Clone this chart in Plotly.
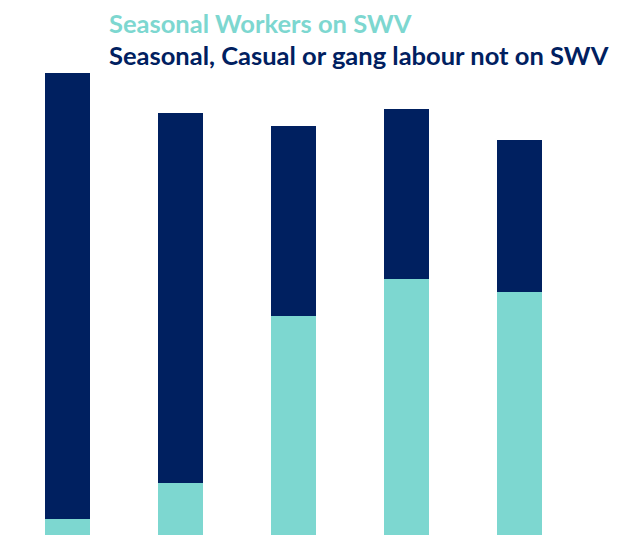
import plotly.graph_objects as go

# Five groups, stacked: workers on SWV at the bottom, other seasonal labour on top
groups = ["A", "B", "C", "D", "E"]
swv_workers = [1.0, 3.25, 13.7, 16.0, 15.2]
not_on_swv = [27.9, 23.1, 11.85, 10.65, 9.5]

TEAL = "#7DD7D0"
NAVY = "#002060"

fig = go.Figure()
fig.add_trace(go.Bar(x=groups, y=swv_workers, name="Seasonal Workers on SWV",
                     marker=dict(color=TEAL, line=dict(width=0))))
fig.add_trace(go.Bar(x=groups, y=not_on_swv, name="Seasonal, Casual or gang labour not on SWV",
                     marker=dict(color=NAVY, line=dict(width=0))))

W, H = 619, 535
ML, MR, MT = 11, 43, 55
pw, ph = W - ML - MR, H - MT

# Legend drawn as coloured text lines (positions given in page pixels)
legend_lines = [("Seasonal Workers on SWV", TEAL, 107, 23),
                ("Seasonal, Casual or gang labour not on SWV", NAVY, 107, 55)]
anns = []
for text, col, px, py in legend_lines:
    anns.append(dict(text=f"<b>{text}</b>", showarrow=False, xref="paper", yref="paper",
                     x=(px - ML) / pw, y=(H - py) / ph,
                     xanchor="left", yanchor="middle",
                     font=dict(family="Lato", size=25.5, color=col)))

fig.update_layout(
    width=W, height=H,
    margin=dict(l=ML, r=MR, t=MT, b=0),
    barmode="stack", bargap=0.6,
    showlegend=False,
    plot_bgcolor="white", paper_bgcolor="white",
    xaxis=dict(visible=False),
    yaxis=dict(visible=False, range=[0, 30]),
    annotations=anns,
)

fig.write_html("out.html")
